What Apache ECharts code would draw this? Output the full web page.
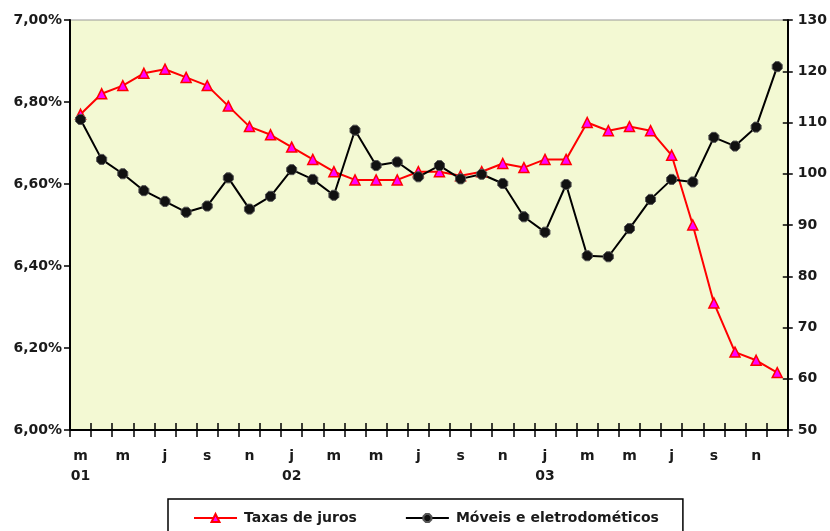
<!DOCTYPE html>
<html>
<head>
<meta charset="utf-8">
<script src="https://cdn.jsdelivr.net/npm/echarts@6/dist/echarts.min.js"></script>
<style>
html,body{margin:0;padding:0;background:#fff;}
#c{width:830px;height:531px;}
</style>
</head>
<body>
<div id="c"></div>
<script>
var categories = ['m\n01','a','m','j','j','a','s','o','n','d',
  'j\n02','f','m','a','m','j','j','a','s','o','n','d',
  'j\n03','f','m','a','m','j','j','a','s','o','n','d'];
var taxasJuros = [6.77,6.82,6.84,6.87,6.88,6.86,6.84,6.79,6.74,6.72,
  6.69,6.66,6.63,6.61,6.61,6.61,6.63,6.63,6.62,6.63,6.65,6.64,
  6.66,6.66,6.75,6.73,6.74,6.73,6.67,6.50,6.31,6.19,6.17,6.14];
var moveis = [110.6,102.8,100.0,96.7,94.6,92.5,93.7,99.2,93.1,95.6,
  100.8,98.9,95.8,108.5,101.6,102.3,99.4,101.6,99.0,99.9,98.1,91.6,
  88.6,97.9,84.0,83.8,89.3,95.0,98.9,98.4,107.1,105.4,109.1,120.9];
var leftTicks = {min:6, max:7, interval:0.2};
var rightTicks = {min:50, max:130, interval:10};
var seriesNames = ['Taxas de juros','Móveis e eletrodométicos'];

var FONT = 'DejaVu Sans';
var labelStyle = {fontFamily: FONT, fontWeight: 'bold', fontSize: 14, color: '#1a1a1a'};
var chart = echarts.init(document.getElementById('c'), null, {renderer:'canvas'});
var octagon = 'path://M3,0 L7,0 L10,3 L10,7 L7,10 L3,10 L0,7 L0,3 Z';

chart.setOption({
  animation: false,
  backgroundColor: '#ffffff',
  grid: {left: 70, right: 41, top: 20, bottom: 101, show: true,
         backgroundColor: '#F3F9D3', borderColor: '#999999', borderWidth: 1},
  legend: {
    left: 168, top: 499,
    padding: [12, 24, 20, 25],
    borderColor: '#000', borderWidth: 1.5,
    itemWidth: 43, itemHeight: 10, itemGap: 48,
    textStyle: Object.assign({}, labelStyle, {padding:[0,0,0,2]}),
    data: seriesNames
  },
  xAxis: [{
    type: 'category', data: categories, boundaryGap: true,
    axisLine: {lineStyle: {color: '#000', width: 2}},
    axisTick: {show: true, interval: 0, length: 7, lineStyle: {color: '#000', width: 1.5}},
    axisLabel: Object.assign({}, labelStyle, {interval: 1, margin: 16, lineHeight: 20}),
    splitLine: {show: false}
  },{
    type: 'category', data: categories, boundaryGap: true, position: 'bottom',
    axisLine: {show: false},
    axisTick: {show: true, inside: true, interval: 0, length: 7, lineStyle: {color: '#000', width: 1.5}},
    axisLabel: {show: false}, splitLine: {show: false}
  }],
  yAxis: [{
    type: 'value', position: 'left',
    min: leftTicks.min, max: leftTicks.max, interval: leftTicks.interval,
    axisLine: {show: true, lineStyle: {color: '#000', width: 2}},
    axisTick: {show: true, length: 6, lineStyle: {color: '#000', width: 1.5}},
    axisLabel: Object.assign({}, labelStyle, {margin: 8,
      formatter: function(v){ return v.toFixed(2).replace('.', ',') + '%'; }}),
    splitLine: {show: false}
  },{
    type: 'value', position: 'right',
    min: rightTicks.min, max: rightTicks.max, interval: rightTicks.interval,
    axisLine: {show: true, lineStyle: {color: '#000', width: 2}},
    axisTick: {show: true, length: 5, lineStyle: {color: '#000', width: 1.5}},
    axisLabel: Object.assign({}, labelStyle, {margin: 10}),
    splitLine: {show: false}
  },{
    type: 'value', position: 'right',
    min: rightTicks.min, max: rightTicks.max, interval: rightTicks.interval,
    axisLine: {show: false},
    axisTick: {show: true, inside: true, length: 5, lineStyle: {color: '#000', width: 1.5}},
    axisLabel: {show: false}, splitLine: {show: false}
  }],
  series: [{
    name: seriesNames[0], type: 'line', xAxisIndex: 0, yAxisIndex: 0,
    data: taxasJuros,
    lineStyle: {color: '#FF0000', width: 2},
    itemStyle: {color: '#FF00FF', borderColor: '#FF0000', borderWidth: 1.5},
    symbol: 'triangle', symbolSize: 10, showAllSymbol: true
  },{
    name: seriesNames[1], type: 'line', xAxisIndex: 0, yAxisIndex: 1,
    data: moveis,
    lineStyle: {color: '#000000', width: 2},
    itemStyle: {color: '#111111', borderColor: '#555555', borderWidth: 1},
    symbol: octagon, symbolSize: 10, showAllSymbol: true
  }]
});
</script>
</body>
</html>
